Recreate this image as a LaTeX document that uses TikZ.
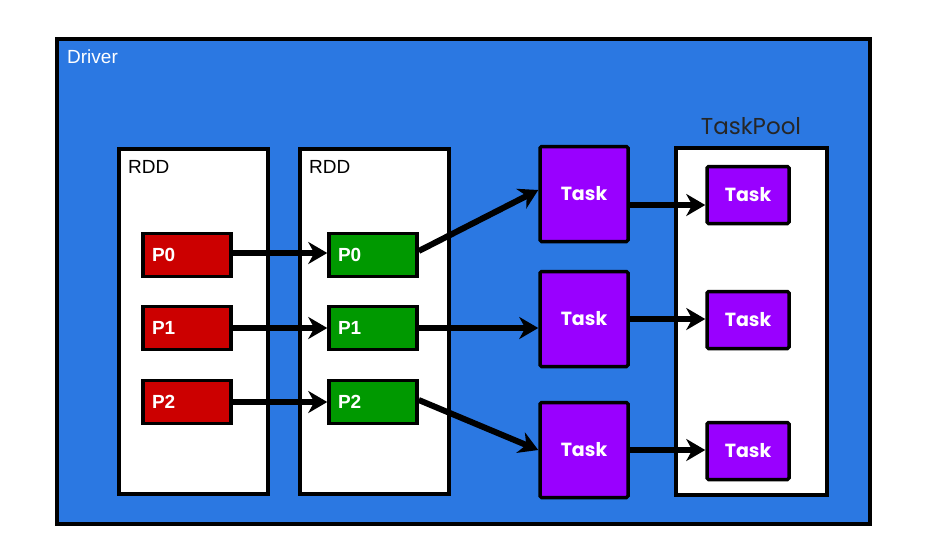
\documentclass[tikz,border=0pt]{standalone}
\usepackage{fontspec}
\setmainfont{Liberation Sans}
\newfontfamily\roundfont{Poppins}
\usetikzlibrary{arrows.meta}
\definecolor{drvblue}{HTML}{2B78E2}
\definecolor{pred}{HTML}{CC0000}
\definecolor{pgreen}{HTML}{009900}
\definecolor{tpurple}{HTML}{9900FF}
\tikzset{
  box/.style={draw=black,line width=3.5pt,fill=white,anchor=north west,inner sep=0pt},
  part/.style={draw=black,line width=3.5pt,minimum width=88pt,minimum height=43pt,inner sep=0pt,text=white,font=\bfseries\fontsize{19}{21}\selectfont,text width=70pt,align=left},
  redpart/.style={part,fill=pred},
  greenpart/.style={part,fill=pgreen},
  tasktext/.style={draw=black,line width=3.5pt,fill=tpurple,rounded corners=1.5pt,inner sep=0pt,text=white,font=\roundfont\bfseries\fontsize{19}{21}\selectfont},
  bigtask/.style={tasktext,minimum width=88pt,minimum height=95pt},
  smalltask/.style={tasktext,minimum width=82pt,minimum height=57pt},
  lbl/.style={anchor=west,inner sep=0pt,font=\fontsize{19}{21}\selectfont},
  arr/.style={draw=black,line width=6pt,-{Stealth[length=19pt,width=22pt,inset=6pt]}},
}
\begin{document}
\begin{tikzpicture}[x=1pt,y=-1pt]
\useasboundingbox[fill=white] (0,0) rectangle (926,558);
% Driver
\node[draw=black,line width=4pt,fill=drvblue,anchor=north west,minimum width=813pt,minimum height=485pt,inner sep=0pt] (driver) at (55,37) {};
\node[lbl,text=white] (drvlbl) at (67,57) {Driver};
% RDD boxes
\node[box,minimum width=149pt,minimum height=345pt] (rdd1) at (117,147) {};
\node[lbl] (rdd1lbl) at (128,167) {RDD};
\node[box,minimum width=149pt,minimum height=345pt] (rdd2) at (298,147) {};
\node[lbl] (rdd2lbl) at (309,167) {RDD};
% TaskPool
\node[box,minimum width=151pt,minimum height=347pt] (pool) at (674,146) {};
\node[font=\roundfont\fontsize{23}{25}\selectfont,inner sep=0pt,text=black!85] (poollbl) at (751,126) {TaskPool};
% partitions
\node[redpart] (r0) at (187,255) {P0};
\node[redpart] (r1) at (187,328) {P1};
\node[redpart] (r2) at (187,402) {P2};
\node[greenpart] (g0) at (373,255) {P0};
\node[greenpart] (g1) at (373,328) {P1};
\node[greenpart] (g2) at (373,402) {P2};
% tasks
\node[bigtask] (t0) at (584,194) {Task};
\node[bigtask] (t1) at (584,319) {Task};
\node[bigtask] (t2) at (584,450) {Task};
\node[smalltask] (s0) at (748,195) {Task};
\node[smalltask] (s1) at (748,320) {Task};
\node[smalltask] (s2) at (748,451) {Task};
\coordinate (a0) at ([yshift=-11pt]t0.east);
% arrows
\draw[arr] ([yshift=2pt]r0.east) -- ([yshift=2pt]g0.west);
\draw[arr] (r1.east) -- (g1.west);
\draw[arr] (r2.east) -- (g2.west);
\draw[arr] ([yshift=4pt]g0.east) -- ([yshift=4pt]t0.west);
\draw[arr] (g1.east) -- (t1.west |- g1.east);
\draw[arr] ([yshift=2pt]g2.east) -- (t2.west);
\draw[arr] (a0) -- (s0.west |- a0);
\draw[arr] (t1.east) -- (s1.west |- t1.east);
\draw[arr] (t2.east) -- (s2.west |- t2.east);
\end{tikzpicture}
\end{document}
